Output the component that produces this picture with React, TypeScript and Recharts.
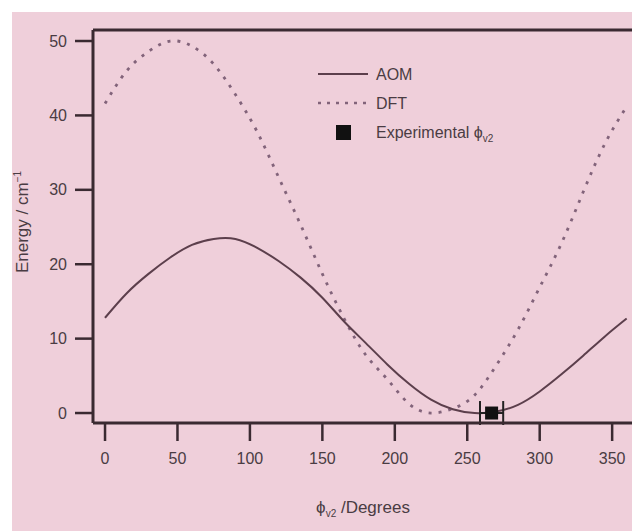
import React from 'react';
import {
  ComposedChart,
  Line,
  Scatter,
  XAxis,
  YAxis,
  ReferenceLine,
  ErrorBar,
  Label,
  Legend,
} from 'recharts';

// ---- data ----
const phiGrid = [0, 15, 30, 45, 60, 75, 90, 105, 120, 135, 150, 165, 180, 195, 210, 225, 240, 255, 270, 285, 300, 315, 330, 345, 360];
const aomEnergy = [12.8, 16.1, 18.7, 20.9, 22.6, 23.4, 23.4, 22.2, 20.4, 18.2, 15.5, 12.3, 9.4, 6.5, 3.9, 1.8, 0.5, 0.0, 0.2, 1.1, 2.9, 5.2, 7.7, 10.3, 12.7];
const dftEnergy = [41.6, 46.0, 48.6, 50.0, 49.3, 46.9, 42.8, 37.8, 31.6, 25.3, 18.7, 12.7, 7.8, 4.5, 1.2, 0.0, 0.6, 2.4, 6.4, 11.2, 16.9, 22.8, 29.7, 36.2, 41.2];
const expPhi = [266.8];
const expEnergy = [0];
const expPhiError = [8];
const xTicks = [0, 50, 100, 150, 200, 250, 300, 350];
const yTicks = [0, 10, 20, 30, 40, 50];
const seriesNames = ['AOM', 'DFT', 'Experimental ϕ'];

const aomData = phiGrid.map((p, i) => ({ phi: p, e: aomEnergy[i] }));
const dftData = phiGrid.map((p, i) => ({ phi: p, e: dftEnergy[i] }));
const expData = expPhi.map((p, i) => ({ phi: p, e: expEnergy[i], err: expPhiError[i] }));

// ---- styles ----
const FONT = "'Liberation Sans', Arial, sans-serif";
const TEXT = '#4a3c43';
const AXIS = '#3a2a31';
const AOM_COLOR = '#5c3f4c';
const DFT_COLOR = '#82637a';
const PINK = '#efcfda';
const X_DOMAIN: [number, number] = [-8.3, 363.7];
const Y_DOMAIN: [number, number] = [-1.34, 51.48];

const squareShape = (props: any) => {
  const { cx, cy } = props;
  return <rect x={cx - 6.5} y={cy - 6.5} width={13} height={13} fill="#111" />;
};

const renderLegend = () => (
  <svg width={220} height={95} style={{ display: 'block', overflow: 'visible' }}>
    <line x1={8} y1={14} x2={58} y2={14} stroke={AOM_COLOR} strokeWidth={2} />
    <text x={66} y={20} fontSize={16} fontFamily={FONT} fill={TEXT}>{seriesNames[0]}</text>
    <line x1={8} y1={43} x2={58} y2={43} stroke={DFT_COLOR} strokeWidth={2.5} strokeDasharray="3 6" />
    <text x={66} y={49} fontSize={16} fontFamily={FONT} fill={TEXT}>{seriesNames[1]}</text>
    <rect x={26} y={65} width={15} height={15} fill="#111" />
    <text x={66} y={78} fontSize={16} fontFamily={FONT} fill={TEXT}>
      {seriesNames[2]}
      <tspan dy={4} fontSize={10}>v2</tspan>
    </text>
  </svg>
);

const renderXLabel = () => (
  <text x={363} y={513} textAnchor="middle" fontSize={17} fontFamily={FONT} fill={TEXT}>
    ϕ
    <tspan dy={4} fontSize={10}>v2</tspan>
    <tspan dy={-4}> /Degrees</tspan>
  </text>
);

const renderYLabel = () => (
  <text transform="translate(28,222) rotate(-90)" textAnchor="middle" fontSize={17} fontFamily={FONT} fill={TEXT}>
    Energy / cm
    <tspan dy={-7} fontSize={10}>−1</tspan>
  </text>
);

export default function App() {
  return (
    <div style={{ position: 'absolute', left: 0, top: 0, width: 632, height: 531, background: '#ffffff', overflow: 'hidden' }}>
      <div style={{ position: 'absolute', left: 12, top: 12, right: 0, bottom: 0, background: PINK }} />
      <div style={{ position: 'absolute', left: 0, top: 0 }}>
        <ComposedChart width={632} height={531} margin={{ top: 30, right: 0, bottom: 0, left: 0 }}>
          <XAxis
            type="number"
            dataKey="phi"
            domain={X_DOMAIN}
            allowDataOverflow
            ticks={xTicks}
            height={108}
            tickSize={18}
            tickMargin={12}
            axisLine={{ stroke: AXIS, strokeWidth: 3 }}
            tickLine={{ stroke: AXIS, strokeWidth: 2.5 }}
            tick={{ fontSize: 16, fill: TEXT, fontFamily: FONT }}
          >
            <Label content={renderXLabel} />
          </XAxis>
          <YAxis
            type="number"
            dataKey="e"
            domain={Y_DOMAIN}
            allowDataOverflow
            ticks={yTicks}
            width={93}
            tickSize={18}
            tickMargin={8}
            axisLine={{ stroke: AXIS, strokeWidth: 3 }}
            tickLine={{ stroke: AXIS, strokeWidth: 2.5 }}
            tick={{ fontSize: 16, fill: TEXT, fontFamily: FONT }}
          >
            <Label content={renderYLabel} />
          </YAxis>
          <ReferenceLine y={Y_DOMAIN[1]} stroke={AXIS} strokeWidth={3} />
          <Line
            data={dftData}
            dataKey="e"
            type="natural"
            stroke={DFT_COLOR}
            strokeWidth={2.8}
            strokeDasharray="3 7"
            dot={false}
            activeDot={false}
            isAnimationActive={false}
            name={seriesNames[1]}
          />
          <Line
            data={aomData}
            dataKey="e"
            type="natural"
            stroke={AOM_COLOR}
            strokeWidth={2}
            dot={false}
            activeDot={false}
            isAnimationActive={false}
            name={seriesNames[0]}
          />
          <Scatter
            data={expData}
            dataKey="e"
            shape={squareShape}
            isAnimationActive={false}
            name={seriesNames[2]}
          >
            <ErrorBar dataKey="err" direction="x" width={12} stroke="#222" strokeWidth={2} />
          </Scatter>
          <Legend
            layout="horizontal"
            verticalAlign="middle"
            align="center"
            content={renderLegend}
            wrapperStyle={{ position: 'absolute', left: 310, top: 60, width: 220, height: 95 }}
          />
        </ComposedChart>
      </div>
    </div>
  );
}
